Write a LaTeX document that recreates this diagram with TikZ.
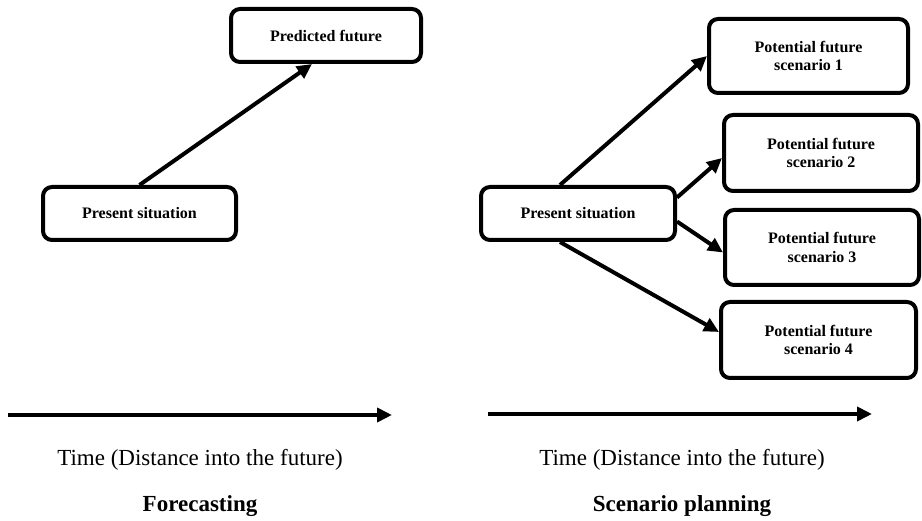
\documentclass[tikz,border=0pt]{standalone}
\usepackage{fontspec}
\setmainfont{Liberation Serif}
\usetikzlibrary{arrows.meta}

\tikzset{
  situation/.style={draw, line width=4pt, rounded corners=9pt, align=center,
    font=\fontsize{16}{18.4}\selectfont\bfseries},
  link/.style={-{Triangle[length=15pt,width=14pt]}, line width=4pt},
  timearrow/.style={-{Triangle[length=15pt,width=14pt]}, line width=4pt},
  caption/.style={font=\fontsize{23}{27}\selectfont}
}

\begin{document}
\begin{tikzpicture}[x=1pt, y=-1pt]
    \useasboundingbox (0,0) rectangle (922,521);

    % forecasting
    \node[situation, minimum width=193pt, minimum height=53pt] (now1) at (139.5,213.5) {Present situation};
    \node[situation, minimum width=190pt, minimum height=53pt] (predicted) at (326,35.5) {Predicted future};
    \draw[link] (now1.north) -- ([xshift=-14pt]predicted.south);

    % scenario planning
    \node[situation, minimum width=194pt, minimum height=53pt] (now2) at (578,213.5) {Present situation};
    \node[situation, minimum width=199pt, minimum height=74pt] (scen1) at (808.5,56) {Potential future\\scenario 1};
    \node[situation, minimum width=194pt, minimum height=76pt] (scen2) at (821,153) {Potential future\\scenario 2};
    \node[situation, minimum width=194pt, minimum height=75pt] (scen3) at (822,247.5) {Potential future\\scenario 3};
    \node[situation, minimum width=195pt, minimum height=76pt] (scen4) at (818.5,340) {Potential future\\scenario 4};
    \draw[link] ([xshift=-18pt]now2.north) -- (scen1.west);
    \draw[link] ([yshift=16pt]now2.east) -- ([yshift=-5pt]scen2.west);
    \draw[link] ([yshift=-8pt]now2.east) -- ([yshift=-5pt]scen3.west);
    \draw[link] ([xshift=-18pt]now2.south) -- ([yshift=8pt]scen4.west);

    % time axes
    \coordinate (axis1start) at (8,415);
    \coordinate (axis1end) at (392,415);
    \coordinate (axis2start) at (488,414);
    \coordinate (axis2end) at (872,414);
    \draw[timearrow] (axis1start) -- (axis1end);
    \draw[timearrow] (axis2start) -- (axis2end);

    \node[caption] (time1) at (200,460) {Time (Distance into the future)};
    \node[caption] (time2) at (682,460) {Time (Distance into the future)};
    \node[caption, font=\fontsize{23}{27}\selectfont\bfseries] (title1) at (200,506) {Forecasting};
    \node[caption, font=\fontsize{23}{27}\selectfont\bfseries] (title2) at (682,506) {Scenario planning};
\end{tikzpicture}
\end{document}
